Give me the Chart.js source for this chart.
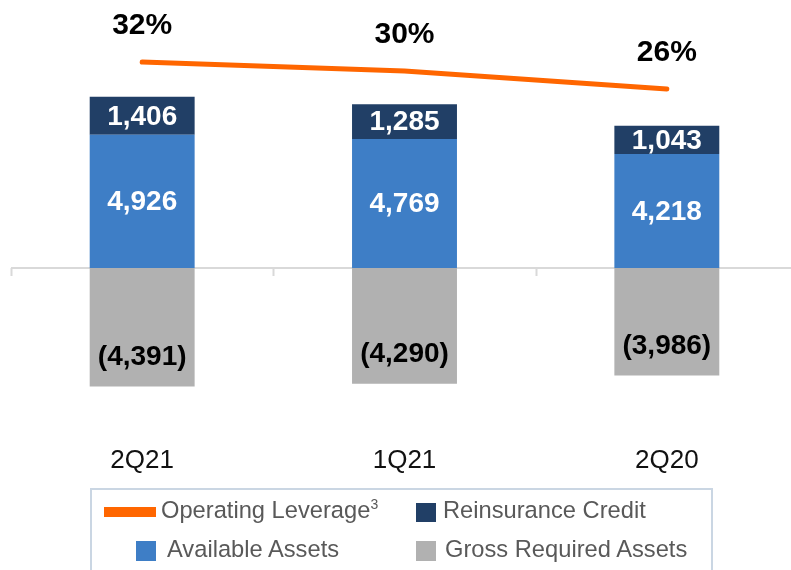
<!DOCTYPE html>
<html>
<head>
<meta charset="utf-8">
<script src="https://cdn.jsdelivr.net/npm/chart.js@4/dist/chart.umd.min.js"></script>
<style>
  html, body { margin: 0; padding: 0; overflow: hidden; background: #ffffff; width: 791px; height: 570px; }
  #wrap { position: absolute; left: 0; top: 0; width: 798px; height: 570px; }
  #legend { position: absolute; left: 90px; top: 488px; width: 623px; height: 100px; border: 2px solid #cad6e3; box-sizing: border-box; background: transparent; }
  .lg { position: absolute; font-family: "Liberation Sans", Arial, sans-serif; font-size: 23.7px; line-height: 23px; color: #595959; white-space: nowrap; }
  .sw { position: absolute; }
  sup { font-size: 14px; vertical-align: 9px; line-height: 0; }
</style>
</head>
<body>
<div id="wrap"><canvas id="c"></canvas></div>
<div id="legendLayer"></div>
<script>
// ---- data ----
const categories = ['2Q21', '1Q21', '2Q20'];
const availableAssets = [4926, 4769, 4218];
const reinsuranceCredit = [1406, 1285, 1043];
const grossRequiredAssets = [-4391, -4290, -3986];
const operatingLeverage = [32, 30, 26];
const seriesNames = ['Operating Leverage', 'Reinsurance Credit', 'Available Assets', 'Gross Required Assets'];

const COLORS = {
  available: '#3e7ec6',
  reinsurance: '#213f66',
  gross: '#b1b1b1',
  leverage: '#ff6600'
};

function fmt(v) {
  const s = Math.abs(v).toLocaleString('en-US');
  return v < 0 ? '(' + s + ')' : s;
}

const axisPlugin = {
  id: 'zeroAxis',
  beforeDatasetsDraw(chart) {
    const ctx = chart.ctx;
    const x = chart.scales.x;
    const y = chart.scales.y;
    const y0 = y.getPixelForValue(0);
    const area = chart.chartArea;
    ctx.save();
    ctx.strokeStyle = '#d9d9d9';
    ctx.lineWidth = 2;
    ctx.beginPath();
    ctx.moveTo(area.left, y0);
    ctx.lineTo(area.right, y0);
    const n = categories.length;
    const w = (x.right - x.left) / n;
    for (let i = 0; i <= n; i++) {
      const bx = Math.round(x.left + i * w) + 0.5;
      ctx.moveTo(bx, y0);
      ctx.lineTo(bx, y0 + 8);
    }
    ctx.stroke();
    ctx.restore();
  }
};

const labelPlugin = {
  id: 'valueLabels',
  afterDatasetsDraw(chart) {
    const ctx = chart.ctx;
    ctx.save();
    ctx.textAlign = 'center';
    ctx.textBaseline = 'middle';
    chart.data.datasets.forEach((ds, di) => {
      const meta = chart.getDatasetMeta(di);
      meta.data.forEach((el, i) => {
        const v = ds.data[i];
        if (ds.type === 'line') {
          ctx.fillStyle = '#000000';
          ctx.font = 'bold 30px "Liberation Sans", Arial, sans-serif';
          ctx.fillText(v + '%', el.x, el.y - 36);
        } else if (v < 0) {
          ctx.fillStyle = '#000000';
          ctx.font = 'bold 28px "Liberation Sans", Arial, sans-serif';
          ctx.fillText(fmt(v), el.x, el.y - 29);
        } else {
          ctx.fillStyle = '#ffffff';
          ctx.font = 'bold 28px "Liberation Sans", Arial, sans-serif';
          ctx.fillText(fmt(v), el.x, (el.y + el.base) / 2 + 1);
        }
      });
    });
    ctx.restore();
  }
};

new Chart(document.getElementById('c'), {
  type: 'bar',
  data: {
    labels: categories,
    datasets: [
      {
        type: 'line',
        label: seriesNames[0],
        data: operatingLeverage,
        yAxisID: 'y1',
        borderColor: COLORS.leverage,
        backgroundColor: COLORS.leverage,
        borderWidth: 5,
        borderCapStyle: 'round',
        borderJoinStyle: 'round',
        pointRadius: 0,
        tension: 0,
        order: 0
      },
      {
        label: seriesNames[2],
        data: availableAssets,
        backgroundColor: COLORS.available,
        stack: 's',
        order: 1
      },
      {
        label: seriesNames[1],
        data: reinsuranceCredit,
        backgroundColor: COLORS.reinsurance,
        stack: 's',
        order: 1
      },
      {
        label: seriesNames[3],
        data: grossRequiredAssets,
        backgroundColor: COLORS.gross,
        stack: 's',
        order: 1
      }
    ]
  },
  options: {
    responsive: true,
    maintainAspectRatio: false,
    animation: false,
    layout: { padding: { left: 11, right: 0, top: 0, bottom: 89 } },
    plugins: { legend: { display: false }, tooltip: { enabled: false } },
    datasets: { bar: { barPercentage: 0.4, categoryPercentage: 1.0 } },
    scales: {
      x: {
        stacked: true,
        grid: { display: false, drawTicks: false },
        border: { display: false },
        ticks: {
          padding: 5,
          color: '#111111',
          font: { family: '"Liberation Sans", Arial, sans-serif', size: 26 }
        }
      },
      y: {
        stacked: true,
        display: false,
        min: -6364,
        max: 9916
      },
      y1: {
        display: false,
        stacked: false,
        min: -52,
        max: 45.78
      }
    }
  },
  plugins: [axisPlugin, labelPlugin]
});

// ---- legend (HTML) ----
const layer = document.getElementById('legendLayer');
layer.innerHTML =
  '<div id="legend"></div>' +
  '<div class="sw" style="left:104px;top:507px;width:52px;height:10px;background:' + COLORS.leverage + '"></div>' +
  '<div class="lg" style="left:161px;top:499px">' + seriesNames[0] + '<sup>3</sup></div>' +
  '<div class="sw" style="left:416px;top:503px;width:20px;height:19px;background:' + COLORS.reinsurance + '"></div>' +
  '<div class="lg" style="left:443px;top:499px">' + seriesNames[1] + '</div>' +
  '<div class="sw" style="left:136px;top:541px;width:20px;height:20px;background:' + COLORS.available + '"></div>' +
  '<div class="lg" style="left:167px;top:538px">' + seriesNames[2] + '</div>' +
  '<div class="sw" style="left:416px;top:541px;width:20px;height:20px;background:' + COLORS.gross + '"></div>' +
  '<div class="lg" style="left:445px;top:538px">' + seriesNames[3] + '</div>';
</script>
</body>
</html>
